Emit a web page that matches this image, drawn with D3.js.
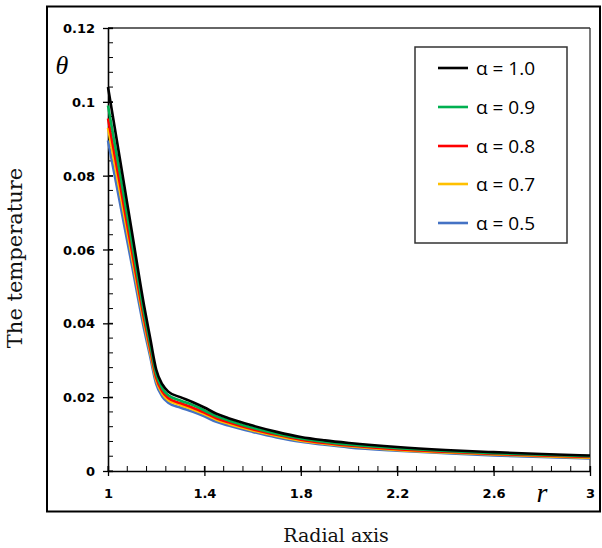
<!DOCTYPE html>
<html>
<head>
<meta charset="utf-8">
<script src="https://cdn.jsdelivr.net/npm/d3@7"></script>
<style>
  html, body { margin: 0; padding: 0; background: #fff; }
  svg { display: block; }
</style>
</head>
<body>
<svg id="chart" width="602" height="548"></svg>
<script>
// ---- data ----
const rValues = [1.0, 1.05, 1.1, 1.15, 1.175, 1.2, 1.225, 1.25, 1.3, 1.35, 1.4, 1.45, 1.5, 1.6, 1.7, 1.8, 1.9, 2.0, 2.2, 2.4, 2.6, 2.8, 3.0];
const alpha10 = [0.1040, 0.0843, 0.0645, 0.0447, 0.0360, 0.0275, 0.0235, 0.0215, 0.0200, 0.0187, 0.0172, 0.0155, 0.0143, 0.0123, 0.0106, 0.0092, 0.0083, 0.0076, 0.0065, 0.0057, 0.0051, 0.0046, 0.0042];
const alpha09 = [0.0990, 0.0805, 0.0616, 0.0427, 0.0344, 0.0263, 0.0224, 0.0205, 0.0191, 0.0179, 0.0164, 0.0148, 0.0137, 0.0117, 0.0101, 0.0088, 0.0079, 0.0072, 0.0062, 0.0054, 0.0048, 0.0044, 0.0040];
const alpha08 = [0.0955, 0.0776, 0.0593, 0.0411, 0.0331, 0.0253, 0.0216, 0.0198, 0.0184, 0.0172, 0.0158, 0.0143, 0.0132, 0.0113, 0.0098, 0.0085, 0.0076, 0.0069, 0.0059, 0.0052, 0.0046, 0.0042, 0.0038];
const alpha07 = [0.0930, 0.0755, 0.0577, 0.0400, 0.0322, 0.0246, 0.0210, 0.0192, 0.0179, 0.0167, 0.0154, 0.0139, 0.0128, 0.0110, 0.0095, 0.0082, 0.0074, 0.0067, 0.0057, 0.0050, 0.0045, 0.0040, 0.0036];
const alpha05 = [0.0895, 0.0725, 0.0555, 0.0384, 0.0310, 0.0236, 0.0202, 0.0185, 0.0172, 0.0161, 0.0148, 0.0133, 0.0123, 0.0106, 0.0091, 0.0079, 0.0071, 0.0064, 0.0055, 0.0048, 0.0042, 0.0038, 0.0034];
const seriesLabels = ["α = 1.0", "α = 0.9", "α = 0.8", "α = 0.7", "α = 0.5"];
const seriesColors = ["#000000", "#00b050", "#ff0000", "#ffc000", "#4472c4"];
const xTickValues = [1, 1.4, 1.8, 2.2, 2.6, 3];
const xTickLabels = ["1", "1.4", "1.8", "2.2", "2.6", "3"];
const yTickValues = [0, 0.02, 0.04, 0.06, 0.08, 0.1, 0.12];
const yTickLabels = ["0", "0.02", "0.04", "0.06", "0.08", "0.1", "0.12"];

const seriesValues = [alpha10, alpha09, alpha08, alpha07, alpha05];

// ---- layout ----
const svg = d3.select("#chart");
const L = 108, R = 590, T = 28, B = 471;
const x = d3.scaleLinear().domain([1, 3]).range([L, R]);
const y = d3.scaleLinear().domain([0, 0.12]).range([B, T]);

// outer frame
svg.append("rect").attr("x", 47).attr("y", 6.5).attr("width", 553).attr("height", 505)
  .attr("fill", "none").attr("stroke", "#000").attr("stroke-width", 2);

// plot box top/right
svg.append("line").attr("x1", L).attr("x2", R).attr("y1", T).attr("y2", T)
  .attr("stroke", "#333").attr("stroke-width", 1.3);
svg.append("line").attr("x1", R).attr("x2", R).attr("y1", T).attr("y2", B)
  .attr("stroke", "#333").attr("stroke-width", 1.3);

const tickFont = "'DejaVu Sans', sans-serif";

// minor ticks (inside)
const xMinor = d3.range(0, 26).map(i => 1 + i * 0.08).filter(v => v <= 3.0001);
const yMinor = d3.range(0, 31).map(i => i * 0.004).filter(v => v <= 0.12001);
svg.append("g").selectAll("line").data(xMinor).join("line")
  .attr("x1", d => x(d)).attr("x2", d => x(d)).attr("y1", B).attr("y2", B - 5)
  .attr("stroke", "#000").attr("stroke-width", 1);
svg.append("g").selectAll("line").data(yMinor).join("line")
  .attr("x1", L).attr("x2", L + 5).attr("y1", d => y(d)).attr("y2", d => y(d))
  .attr("stroke", "#000").attr("stroke-width", 1);

// axes with major ticks crossing
const xAxis = d3.axisBottom(x).tickValues(xTickValues).tickFormat((d, i) => xTickLabels[i]).tickSize(0).tickPadding(0);
const gx = svg.append("g").attr("transform", `translate(0,${B})`).call(xAxis);
gx.select(".domain").attr("stroke", "#000").attr("stroke-width", 1.6);
gx.selectAll(".tick").append("line").attr("y1", -5).attr("y2", 5).attr("stroke", "#000").attr("stroke-width", 1.3);
gx.selectAll(".tick text").attr("dy", null).attr("y", 26.5)
  .style("font-family", tickFont).style("font-weight", "bold").style("font-size", "13px").attr("fill", "#000");

const yAxis = d3.axisLeft(y).tickValues(yTickValues).tickFormat((d, i) => yTickLabels[i]).tickSize(0).tickPadding(0);
const gy = svg.append("g").attr("transform", `translate(${L},0)`).call(yAxis);
gy.select(".domain").attr("stroke", "#000").attr("stroke-width", 1.6);
gy.selectAll(".tick").append("line").attr("x1", -5).attr("x2", 5).attr("stroke", "#000").attr("stroke-width", 1.3);
gy.selectAll(".tick text").attr("x", -13).attr("dy", "0.35em")
  .style("font-family", tickFont).style("font-weight", "bold").style("font-size", "13px").attr("fill", "#000");

// lines
const line = d3.line().x((d, i) => x(rValues[i])).y(d => y(d)).curve(d3.curveMonotoneX);
const order = [4, 3, 2, 1, 0];
svg.append("g").selectAll("path").data(order).join("path")
  .attr("d", k => line(seriesValues[k]))
  .attr("fill", "none").attr("stroke", k => seriesColors[k]).attr("stroke-width", 2.6)
  .attr("stroke-linejoin", "round");

// axis symbols
svg.append("text").attr("x", 62).attr("y", 74).attr("text-anchor", "middle")
  .style("font-family", "'Liberation Serif', serif").style("font-style", "italic").style("font-size", "26px")
  .text("θ");
svg.append("text").attr("x", 542).attr("y", 502).attr("text-anchor", "middle")
  .style("font-family", "'Liberation Serif', serif").style("font-style", "italic").style("font-size", "28px")
  .text("r");

// legend
const lg = svg.append("g");
lg.append("rect").attr("x", 415).attr("y", 47).attr("width", 152).attr("height", 196)
  .attr("fill", "#fff").attr("stroke", "#333").attr("stroke-width", 1.5);
const rowY = [68, 107, 146, 184, 223];
seriesLabels.forEach((lab, i) => {
  lg.append("line").attr("x1", 438).attr("x2", 468).attr("y1", rowY[i]).attr("y2", rowY[i])
    .attr("stroke", seriesColors[i]).attr("stroke-width", 2.6);
  lg.append("text").attr("x", 476).attr("y", rowY[i]).attr("dy", "0.35em")
    .style("font-family", "'Open Sans', Lato, sans-serif").style("font-size", "19px")
    .attr("fill", "#000").text(lab);
});

// axis titles
svg.append("text").attr("transform", "translate(22,258) rotate(-90)").attr("text-anchor", "middle")
  .style("font-family", "'DejaVu Serif', serif").style("font-size", "21px").attr("fill", "#111")
  .text("The temperature");
svg.append("text").attr("x", 336).attr("y", 542).attr("text-anchor", "middle")
  .style("font-family", "'DejaVu Serif', serif").style("font-size", "19px").attr("fill", "#111")
  .text("Radial axis");
</script>
</body>
</html>
